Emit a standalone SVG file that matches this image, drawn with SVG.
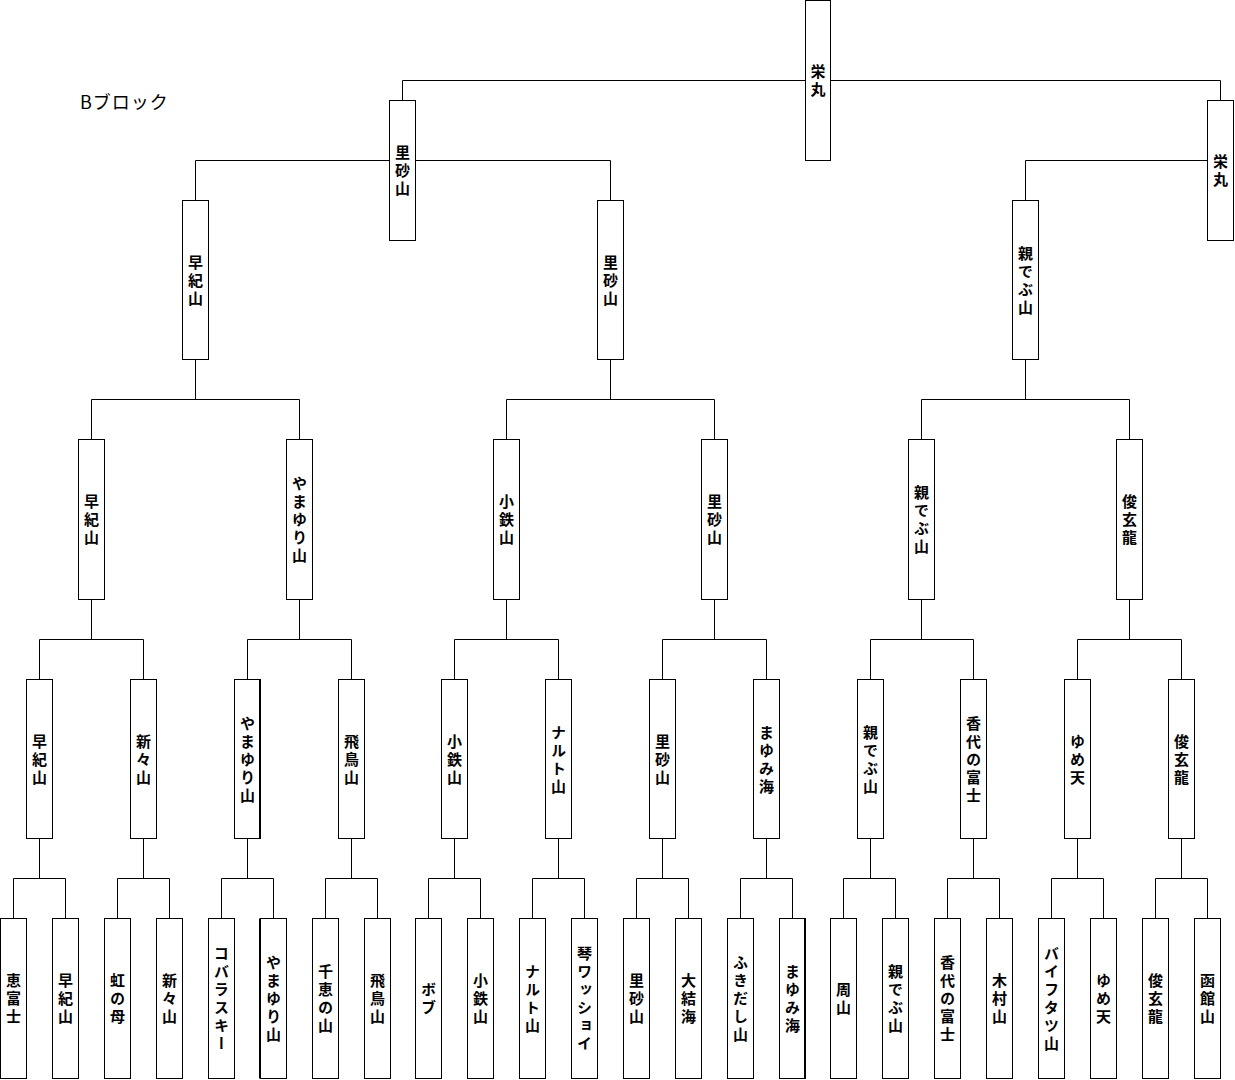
<svg xmlns="http://www.w3.org/2000/svg" width="1235" height="1080" viewBox="0 0 1235 1080">
<style>
.bg{fill:#fff}
.box{fill:#fff;stroke:#000;stroke-width:1}
.conn{fill:none;stroke:#000;stroke-width:1}
.thick{fill:none;stroke:#000;stroke-width:1}
.lbl{font-family:"Noto Sans CJK JP","Noto Sans CJK SC",sans-serif;font-size:15px;font-weight:bold;fill:#000;writing-mode:vertical-rl;text-anchor:middle;letter-spacing:3px}
.title{font-family:"Noto Sans CJK JP","Noto Sans CJK SC",sans-serif;font-size:18px;letter-spacing:1px;fill:#000}
</style>
<rect class="bg" x="0" y="0" width="1235" height="1080"/>
<text class="title" x="80" y="109">Bブロック</text>
<g id="connectors">
<path class="conn" d="M402.5 100.5V80.5H1220.5V100.5M195.5 200.5V160.5H610.5V200.5M1025.5 200.5V160.5H1207.5
M195.5 359.5V399.5M91.5 439.5V399.5H299.5V439.5
M610.5 359.5V399.5M506.5 439.5V399.5H714.5V439.5
M1025.5 359.5V399.5M921.5 439.5V399.5H1129.5V439.5
M91.5 599.5V639.5M39.5 679.5V639.5H143.5V679.5
M299.5 599.5V639.5M247.5 679.5V639.5H351.5V679.5
M506.5 599.5V639.5M454.5 679.5V639.5H558.5V679.5
M714.5 599.5V639.5M662.5 679.5V639.5H766.5V679.5
M921.5 599.5V639.5M870.5 679.5V639.5H973.5V679.5
M1129.5 599.5V639.5M1077.5 679.5V639.5H1181.5V679.5
M39.5 838.5V878.5M13.5 918.5V878.5H65.5V918.5
M143.5 838.5V878.5M117.5 918.5V878.5H169.5V918.5
M247.5 838.5V878.5M221.5 918.5V878.5H273.5V918.5
M351.5 838.5V878.5M325.5 918.5V878.5H377.5V918.5
M454.5 838.5V878.5M428.5 918.5V878.5H480.5V918.5
M558.5 838.5V878.5M532.5 918.5V878.5H584.5V918.5
M662.5 838.5V878.5M636.5 918.5V878.5H688.5V918.5
M766.5 838.5V878.5M740.5 918.5V878.5H792.5V918.5
M870.5 838.5V878.5M843.5 918.5V878.5H895.5V918.5
M973.5 838.5V878.5M947.5 918.5V878.5H999.5V918.5
M1077.5 838.5V878.5M1051.5 918.5V878.5H1103.5V918.5
M1181.5 838.5V878.5M1155.5 918.5V878.5H1207.5V918.5"/>
</g>
<g id="r1-0"><rect class="box" x="805.5" y="0.5" width="25" height="160"/><text class="lbl" x="818" y="81.5">栄丸</text></g>
<g id="r2-0"><rect class="box" x="389.5" y="100.5" width="26" height="140"/><text class="lbl" x="402.5" y="171.5">里砂山</text></g>
<g id="r2-1"><rect class="box" x="1207.5" y="100.5" width="26" height="140"/><text class="lbl" x="1220.5" y="171.5">栄丸</text></g>
<g id="r3-0"><rect class="box" x="182.5" y="200.5" width="26" height="159"/><text class="lbl" x="195.5" y="281.5">早紀山</text></g>
<g id="r3-1"><rect class="box" x="597.5" y="200.5" width="26" height="159"/><text class="lbl" x="610.5" y="281.5">里砂山</text></g>
<g id="r3-2"><rect class="box" x="1012.5" y="200.5" width="26" height="159"/><text class="lbl" x="1025.5" y="281.5">親でぶ山</text></g>
<g id="r4-0"><rect class="box" x="78.5" y="439.5" width="26" height="160"/><text class="lbl" x="91.5" y="521">早紀山</text></g>
<g id="r4-1"><rect class="box" x="286.5" y="439.5" width="26" height="160"/><text class="lbl" x="299.5" y="521">やまゆり山</text></g>
<g id="r4-2"><rect class="box" x="493.5" y="439.5" width="26" height="160"/><text class="lbl" x="506.5" y="521">小鉄山</text></g>
<g id="r4-3"><rect class="box" x="701.5" y="439.5" width="26" height="160"/><text class="lbl" x="714.5" y="521">里砂山</text></g>
<g id="r4-4"><rect class="box" x="908.5" y="439.5" width="26" height="160"/><text class="lbl" x="921.5" y="521">親でぶ山</text></g>
<g id="r4-5"><rect class="box" x="1116.5" y="439.5" width="26" height="160"/><text class="lbl" x="1129.5" y="521">俊玄龍</text></g>
<g id="r5-0"><rect class="box" x="26.5" y="679.5" width="26" height="159"/><text class="lbl" x="39.5" y="760.5">早紀山</text></g>
<g id="r5-1"><rect class="box" x="130.5" y="679.5" width="26" height="159"/><text class="lbl" x="143.5" y="760.5">新々山</text></g>
<g id="r5-2"><rect class="box" x="234.5" y="679.5" width="26" height="159"/><path class="thick" d="M259.5 679.5V838.5"/><text class="lbl" x="247.5" y="760.5">やまゆり山</text></g>
<g id="r5-3"><rect class="box" x="338.5" y="679.5" width="26" height="159"/><text class="lbl" x="351.5" y="760.5">飛鳥山</text></g>
<g id="r5-4"><rect class="box" x="441.5" y="679.5" width="26" height="159"/><text class="lbl" x="454.5" y="760.5">小鉄山</text></g>
<g id="r5-5"><rect class="box" x="545.5" y="679.5" width="26" height="159"/><text class="lbl" x="558.5" y="760.5">ナルト山</text></g>
<g id="r5-6"><rect class="box" x="649.5" y="679.5" width="26" height="159"/><text class="lbl" x="662.5" y="760.5">里砂山</text></g>
<g id="r5-7"><rect class="box" x="753.5" y="679.5" width="26" height="159"/><text class="lbl" x="766.5" y="760.5">まゆみ海</text></g>
<g id="r5-8"><rect class="box" x="857.5" y="679.5" width="26" height="159"/><text class="lbl" x="870.5" y="760.5">親でぶ山</text></g>
<g id="r5-9"><rect class="box" x="960.5" y="679.5" width="26" height="159"/><text class="lbl" x="973.5" y="760.5">香代の富士</text></g>
<g id="r5-10"><rect class="box" x="1064.5" y="679.5" width="26" height="159"/><text class="lbl" x="1077.5" y="760.5">ゆめ天</text></g>
<g id="r5-11"><rect class="box" x="1168.5" y="679.5" width="26" height="159"/><text class="lbl" x="1181.5" y="760.5">俊玄龍</text></g>
<g id="r6-0"><rect class="box" x="0.5" y="918.5" width="26" height="160"/><text class="lbl" x="13.5" y="999.5">恵富士</text></g>
<g id="r6-1"><rect class="box" x="52.5" y="918.5" width="26" height="160"/><text class="lbl" x="65.5" y="999.5">早紀山</text></g>
<g id="r6-2"><rect class="box" x="104.5" y="918.5" width="26" height="160"/><text class="lbl" x="117.5" y="999.5">虹の母</text></g>
<g id="r6-3"><rect class="box" x="156.5" y="918.5" width="26" height="160"/><text class="lbl" x="169.5" y="999.5">新々山</text></g>
<g id="r6-4"><rect class="box" x="208.5" y="918.5" width="26" height="160"/><text class="lbl" x="221.5" y="999.5">コバラスキー</text></g>
<g id="r6-5"><rect class="box" x="260.5" y="918.5" width="26" height="160"/><path class="thick" d="M259.5 918.5V1078.5"/><text class="lbl" x="273.5" y="999.5">やまゆり山</text></g>
<g id="r6-6"><rect class="box" x="312.5" y="918.5" width="26" height="160"/><text class="lbl" x="325.5" y="999.5">千恵の山</text></g>
<g id="r6-7"><rect class="box" x="364.5" y="918.5" width="26" height="160"/><text class="lbl" x="377.5" y="999.5">飛鳥山</text></g>
<g id="r6-8"><rect class="box" x="415.5" y="918.5" width="26" height="160"/><text class="lbl" x="428.5" y="999.5">ボブ</text></g>
<g id="r6-9"><rect class="box" x="467.5" y="918.5" width="26" height="160"/><text class="lbl" x="480.5" y="999.5">小鉄山</text></g>
<g id="r6-10"><rect class="box" x="519.5" y="918.5" width="26" height="160"/><text class="lbl" x="532.5" y="999.5">ナルト山</text></g>
<g id="r6-11"><rect class="box" x="571.5" y="918.5" width="26" height="160"/><text class="lbl" x="584.5" y="999.5">琴ワッショイ</text></g>
<g id="r6-12"><rect class="box" x="623.5" y="918.5" width="26" height="160"/><text class="lbl" x="636.5" y="999.5">里砂山</text></g>
<g id="r6-13"><rect class="box" x="675.5" y="918.5" width="26" height="160"/><text class="lbl" x="688.5" y="999.5">大結海</text></g>
<g id="r6-14"><rect class="box" x="727.5" y="918.5" width="26" height="160"/><text class="lbl" x="740.5" y="999.5">ふきだし山</text></g>
<g id="r6-15"><rect class="box" x="779.5" y="918.5" width="26" height="160"/><path class="thick" d="M804.5 918.5V1078.5"/><text class="lbl" x="792.5" y="999.5">まゆみ海</text></g>
<g id="r6-16"><rect class="box" x="830.5" y="918.5" width="26" height="160"/><text class="lbl" x="843.5" y="999.5">周山</text></g>
<g id="r6-17"><rect class="box" x="882.5" y="918.5" width="26" height="160"/><text class="lbl" x="895.5" y="999.5">親でぶ山</text></g>
<g id="r6-18"><rect class="box" x="934.5" y="918.5" width="26" height="160"/><text class="lbl" x="947.5" y="999.5">香代の富士</text></g>
<g id="r6-19"><rect class="box" x="986.5" y="918.5" width="26" height="160"/><text class="lbl" x="999.5" y="999.5">木村山</text></g>
<g id="r6-20"><rect class="box" x="1038.5" y="918.5" width="26" height="160"/><text class="lbl" x="1051.5" y="999.5">バイフタツ山</text></g>
<g id="r6-21"><rect class="box" x="1090.5" y="918.5" width="26" height="160"/><text class="lbl" x="1103.5" y="999.5">ゆめ天</text></g>
<g id="r6-22"><rect class="box" x="1142.5" y="918.5" width="26" height="160"/><text class="lbl" x="1155.5" y="999.5">俊玄龍</text></g>
<g id="r6-23"><rect class="box" x="1194.5" y="918.5" width="26" height="160"/><text class="lbl" x="1207.5" y="999.5">函館山</text></g>
</svg>
